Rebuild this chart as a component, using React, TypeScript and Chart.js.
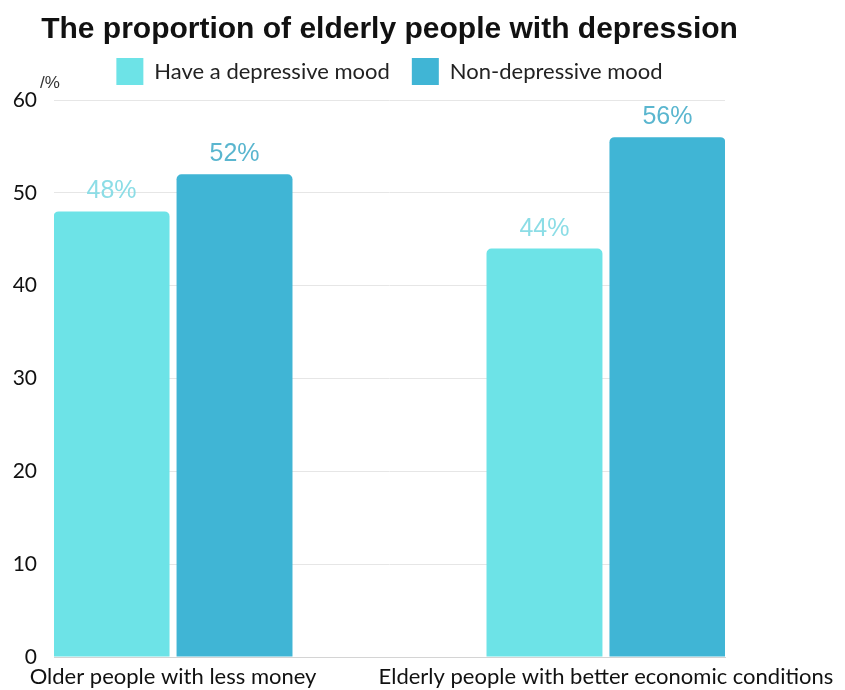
import React, { useEffect, useRef } from "react";
import { Chart, registerables } from "chart.js";

Chart.register(...registerables);

const categories = ["Older people with less money", "Elderly people with better economic conditions"];
const seriesNames = ["Have a depressive mood", "Non-depressive mood"];
const depressiveValues = [48, 44];
const nonDepressiveValues = [52, 56];
const yTicks = [0, 10, 20, 30, 40, 50, 60];

const barColors = ["#6de3e7", "#40b5d5"];
const labelColors = ["#8cdde6", "#5ab6cf"];

const LEGEND_EXTRA = 5;

const layoutPlugin = {
  id: "legendSpacing",
  beforeUpdate(chart: any) {
    const lg = chart.legend;
    if (lg && !lg.__patched) {
      const orig = lg.fit;
      lg.fit = function () {
        orig.call(this);
        this.height += LEGEND_EXTRA;
      };
      lg.__patched = true;
    }
  },
};

const labelPlugin = {
  id: "valueLabels",
  afterDatasetsDraw(chart: any) {
    const ctx = chart.ctx;
    ctx.save();
    ctx.font = "25px 'Liberation Sans', Arial, sans-serif";
    ctx.textAlign = "center";
    ctx.textBaseline = "alphabetic";
    chart.data.datasets.forEach((ds: any, di: number) => {
      const meta = chart.getDatasetMeta(di);
      meta.data.forEach((el: any, i: number) => {
        ctx.fillStyle = labelColors[di];
        ctx.fillText(ds.data[i].y + "%", el.x, el.y - 13);
      });
    });
    const area = chart.chartArea;
    ctx.fillStyle = "#333";
    ctx.font = "17px 'Liberation Sans', Arial, sans-serif";
    ctx.textAlign = "left";
    ctx.textBaseline = "middle";
    ctx.fillText("/%", area.left - 14, area.top - 17);
    ctx.restore();
  },
};

export default function App() {
  const canvasRef = useRef<HTMLCanvasElement>(null);

  useEffect(() => {
    if (!canvasRef.current) return;
    const chart = new Chart(canvasRef.current, {
      type: "bar",
      data: {
        datasets: [
          {
            label: seriesNames[0],
            data: depressiveValues.map((v, i) => ({ x: i, y: v })),
            backgroundColor: barColors[0],
            borderRadius: 5,
          },
          {
            label: seriesNames[1],
            data: nonDepressiveValues.map((v, i) => ({ x: i, y: v })),
            backgroundColor: barColors[1],
            borderRadius: 5,
          },
        ],
      },
      plugins: [layoutPlugin, labelPlugin],
      options: {
        animation: false,
        responsive: true,
        maintainAspectRatio: false,
        categoryPercentage: 0.568,
        barPercentage: 0.943,
        layout: { padding: { left: 0, right: 66, top: 0, bottom: 0 } },
        plugins: {
          title: {
            display: true,
            fullSize: true,
            align: "center",
            text: "The proportion of elderly people with depression",
            color: "#111",
            font: { family: "'Liberation Sans', Arial, sans-serif", size: 30, weight: "bold" },
            padding: { top: 12, bottom: -12 },
          },
          legend: {
            display: true,
            fullSize: false,
            labels: {
              boxWidth: 27,
              boxHeight: 27,
              padding: 22,
              color: "#222",
              font: { family: "Lato, sans-serif", size: 22 },
            },
          },
          tooltip: { enabled: false },
        },
        scales: {
          x: {
            type: "linear",
            min: -0.275,
            max: 1.275,
            offset: false,
            grid: { display: false, drawTicks: false },
            border: { display: true, color: "#d4d4d4", width: 1 },
            afterBuildTicks: (scale: any) => {
              scale.ticks = categories.map((_, i) => ({ value: i }));
            },
            afterFit: (scale: any) => {
              scale.height = 33;
              scale.paddingLeft = 0;
              scale.paddingRight = 120;
            },
            ticks: {
              autoSkip: false,
              maxRotation: 0,
              padding: 7,
              color: "#111",
              font: { family: "Lato, sans-serif", size: 22 },
              callback: (value: any) => categories[value] ?? "",
            },
          },
          y: {
            min: 0,
            max: 60,
            afterBuildTicks: (scale: any) => {
              scale.ticks = yTicks.map((v) => ({ value: v }));
            },
            afterFit: (scale: any) => {
              scale.width = 54;
            },
            grid: { color: "#e6e6e6", drawTicks: false },
            border: { display: false },
            ticks: {
              padding: 17,
              color: "#111",
              font: { family: "Lato, sans-serif", size: 21 },
            },
          },
        },
      } as any,
    });
    return () => chart.destroy();
  }, []);

  return (
    <div style={{ position: "absolute", left: 0, top: 0, width: 845, height: 690, background: "#fff" }}>
      <canvas ref={canvasRef} />
    </div>
  );
}
